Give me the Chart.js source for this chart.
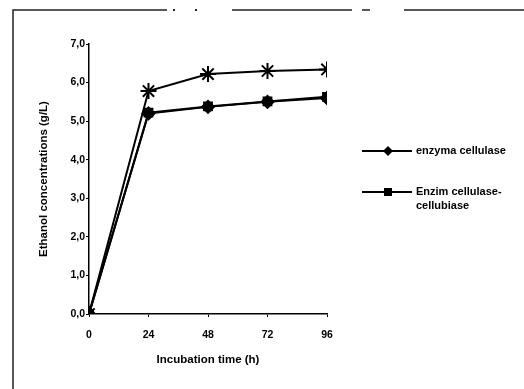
<!DOCTYPE html>
<html>
<head>
<meta charset="utf-8">
<script src="https://cdn.jsdelivr.net/npm/chart.js@4"></script>
<style>
  html, body { margin: 0; padding: 0; background: #fff; }
  #wrap { width: 524px; height: 389px; position: relative; }
</style>
</head>
<body>
<div id="wrap"><canvas id="ethanol"></canvas></div>
<script>
const hours = [0, 24, 48, 72, 96];
const enzymaCellulase = [0, 5.2, 5.37, 5.5, 5.6];
const enzimCellobiase = [0, 5.22, 5.38, 5.51, 5.63];
const asteriskSeries = [0, 5.78, 6.22, 6.3, 6.34];
const seriesLabels = ["enzyma cellulase", "Enzim cellulase-cellubiase"];
const yTicks = [0, 1, 2, 3, 4, 5, 6, 7];

document.addEventListener("DOMContentLoaded", function () {
  const tickFont = { family: "Liberation Sans", size: 10.5, weight: "bold" };
  const titleFont = { family: "Liberation Sans", size: 11.5, weight: "bold" };

  function pts(arr) {
    return arr.map((v, i) => ({ x: hours[i], y: v }));
  }

  // frame + legend drawn by hand (legend needs the line through the marker)
  const extras = {
    id: "extras",
    beforeDraw(chart) {
      const c = chart.ctx;
      c.save();
      c.strokeStyle = "#222";
      c.lineWidth = 1.5;
      c.beginPath();
      c.moveTo(13, 389); c.lineTo(13, 10); c.lineTo(167, 10);
      c.moveTo(232, 10); c.lineTo(352, 10);
      c.moveTo(362, 10); c.lineTo(370, 10);
      c.moveTo(404, 10); c.lineTo(524, 10);
      c.stroke();
      c.fillStyle = "#222";
      c.fillRect(173, 9, 2, 2);
      c.fillRect(195, 9, 2, 2);
      c.restore();
    },
    afterDraw(chart) {
      const c = chart.ctx;
      c.save();
      c.strokeStyle = "#000";
      c.fillStyle = "#000";
      c.lineWidth = 2;
      const rows = [151, 192];
      rows.forEach((y, i) => {
        c.beginPath();
        c.moveTo(362, y); c.lineTo(412, y);
        c.stroke();
        if (i === 0) {
          c.beginPath();
          c.moveTo(388, y - 5); c.lineTo(393, y); c.lineTo(388, y + 5); c.lineTo(383, y);
          c.closePath(); c.fill();
        } else {
          c.fillRect(384, y - 4, 8, 8);
        }
      });
      c.font = "bold 11px 'Liberation Sans'";
      c.textBaseline = "middle";
      c.fillText(seriesLabels[0], 416, rows[0]);
      const parts = seriesLabels[1].split("-");
      c.fillText(parts[0] + "-", 416, rows[1]);
      c.fillText(parts[1], 416, rows[1] + 14);
      c.restore();
    }
  };

  const config = {
    type: "line",
    data: {
      datasets: [
        {
          label: seriesLabels[0],
          data: pts(enzymaCellulase),
          borderColor: "#000",
          backgroundColor: "#000",
          borderWidth: 2,
          pointStyle: "rectRot",
          pointRadius: 6,
        },
        {
          label: seriesLabels[1],
          data: pts(enzimCellobiase),
          borderColor: "#000",
          backgroundColor: "#000",
          borderWidth: 2,
          pointStyle: "rect",
          pointRadius: 5.5,
        },
        {
          label: "",
          data: pts(asteriskSeries),
          borderColor: "#000",
          backgroundColor: "#000",
          borderWidth: 2,
          pointStyle: "star",
          pointRadius: 8,
          pointBorderWidth: 2,
        },
      ],
    },
    options: {
      responsive: false,
      animation: false,
      layout: { padding: { left: 37, top: 44, right: 197, bottom: 0 } },
      plugins: { legend: { display: false }, tooltip: { enabled: false } },
      scales: {
        x: {
          type: "linear",
          min: 0,
          max: 96,
          afterFit: (s) => { s.height = 75; },
          afterBuildTicks: (s) => { s.ticks = hours.map((v) => ({ value: v })); },
          ticks: { color: "#000", font: tickFont, padding: 12, maxRotation: 0 },
          grid: { drawOnChartArea: false, tickLength: 3, color: "#000" },
          border: { color: "#000", width: 1.5 },
          title: {
            display: true,
            text: "Incubation time (h)",
            color: "#000",
            font: titleFont,
            padding: { top: 4, bottom: 22 },
          },
        },
        y: {
          min: 0,
          max: 7,
          afterFit: (s) => { s.width = 52; },
          afterBuildTicks: (s) => { s.ticks = yTicks.map((v) => ({ value: v })); },
          ticks: {
            color: "#000",
            font: tickFont,
            padding: 1,
            callback: (v) => v.toFixed(1).replace(".", ","),
          },
          grid: { drawOnChartArea: false, tickLength: 3, color: "#000" },
          border: { color: "#000", width: 1.5 },
          title: {
            display: true,
            text: "Ethanol concentrations (g/L)",
            color: "#000",
            font: titleFont,
            padding: 0,
          },
        },
      },
    },
    plugins: [extras],
  };

  const ctx = document.getElementById("ethanol");
  ctx.width = 524;
  ctx.height = 389;
  new Chart(ctx, config);
});
</script>
</body>
</html>
